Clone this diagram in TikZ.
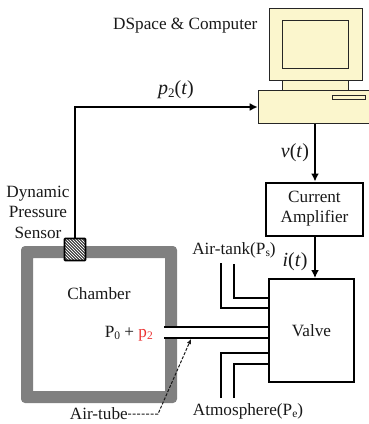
\documentclass[tikz,border=0pt]{standalone}
\usepackage{fontspec}
\setmainfont{Liberation Serif}
\usetikzlibrary{arrows.meta}
\definecolor{pcy}{RGB}{251,246,205}
\definecolor{wallg}{RGB}{128,128,128}
\definecolor{txt}{RGB}{25,25,25}
\definecolor{redp}{RGB}{235,50,50}
\newcommand{\subtxt}[1]{\raisebox{-2.5pt}{\fontsize{11.5}{11.5}\selectfont #1}}
\newcommand{\subm}[1]{\raisebox{-3pt}{\fontsize{13}{13}\selectfont #1}}
\tikzset{
  x=1pt,y=-1pt,
  lbl/.style={font=\fontsize{17.2}{20}\selectfont,text=txt,inner sep=0pt,align=center},
  mlbl/.style={font=\fontsize{20}{22}\selectfont,text=txt,inner sep=0pt},
  pc/.style={draw=black!85,line width=1.2pt,fill=pcy,inner sep=0pt,anchor=north west},
  conn/.style={draw=black,line width=1.6pt,-{Latex[length=8pt,width=8pt]}},
  pipe/.style={draw=black,line width=2pt},
  boxb/.style={draw=black,line width=2pt,fill=white,inner sep=0pt,align=center,text=txt,font=\fontsize{17.2}{20}\selectfont}
}
\begin{document}
\begin{tikzpicture}
\useasboundingbox (0,0) rectangle (369,424);
% chamber
\fill[wallg,even odd rule] [rounded corners=4pt] (21,246) rectangle (177,403) [sharp corners] (33,258) rectangle (165,391);
% computer
\node[pc,minimum width=93pt,minimum height=72.5pt] (mon) at (268.7,7.5) {};
\node[pc,minimum width=66pt,minimum height=48.5pt] (scr) at (282,19.5) {};
\node[pc,minimum width=66pt,minimum height=10pt] (neck) at (282,80) {};
\node[pc,minimum width=111.5pt,minimum height=33pt] (base) at (257.7,90) {};
\node[pc,line width=1pt,minimum width=33pt,minimum height=4pt] (slot) at (332,95) {};
% sensor
\node[draw=black,line width=1.8pt,rounded corners=1pt,fill=white,minimum width=21pt,minimum height=22pt,inner sep=0pt] (sensor) at (75,249.5) {};
\begin{scope}
\clip (65,239.5) rectangle (85,259.5);
\foreach \k in {-24,-21,...,24} \draw[black!90,line width=.9pt] (75+\k-12,249.5-12) -- (75+\k+12,249.5+12);
\end{scope}
\coordinate (corner) at (75,107);
\draw[conn] (sensor.north) -- (corner) -- (base.west |- corner);
% amplifier and valve
\node[boxb,minimum width=97pt,minimum height=53pt] (amp) at (314.5,209) {Current\\Amplifier};
\node[boxb,minimum width=85pt,minimum height=103pt] (valve) at (311.5,330.5) {Valve};
\draw[conn] (base.south -| 315,0) -- (amp.north -| 315,0);
\draw[conn] (amp.south -| 315,0) -- (valve.north -| 315,0);
% tube
\fill[white] (164,327) rectangle (268,338);
\draw[pipe] (164,326.7) -- (269,326.7);
\draw[pipe] (164,337.7) -- (269,337.7);
% ports
\draw[pipe] (221,263) |- (269,308);
\draw[pipe] (234,264) |- (269,297.7);
\draw[pipe] (221,398) |- (269,353);
\draw[pipe] (234,398) |- (269,364);
% labels
\node[lbl,anchor=base west] (ds) at (113,29) {DSpace \& Computer};
\node[mlbl,anchor=base] (p2t) at (176,94) {\textit{p}\subm{2}(\textit{t})};
\node[mlbl,anchor=base] (vt) at (295,157) {\textit{v}(\textit{t})};
\node[mlbl,anchor=base] (it) at (295,266) {\textit{i}(\textit{t})};
\node[lbl,anchor=base] at (38,197) (dps1) {Dynamic};
\node[lbl,anchor=base] at (38,217) (dps2) {Pressure};
\node[lbl,anchor=base] at (38,238) (dps3) {Sensor};
\node[lbl,anchor=base] (ch) at (99,299) {Chamber};
\node[lbl,anchor=base east] (p0) at (153,337) {P\subtxt{0} + \textcolor{redp}{p\subtxt{2}}};
\node[lbl,anchor=base] (tank) at (234,254) {Air-tank(P\subtxt{s})};
\node[lbl,anchor=base] (atm) at (248,415) {Atmosphere(P\subtxt{e})};
\node[lbl,anchor=base east] (at) at (128,419) {Air-tube};
\coordinate (bend) at (158,414);
\coordinate (tubept) at (191,339);
\draw[draw=black!90,line width=1pt,dash pattern=on 3pt off 1.5pt,-{Latex[length=5pt,width=4.5pt]}] (at.east |- bend) -- (bend) -- (tubept);
\end{tikzpicture}
\end{document}
